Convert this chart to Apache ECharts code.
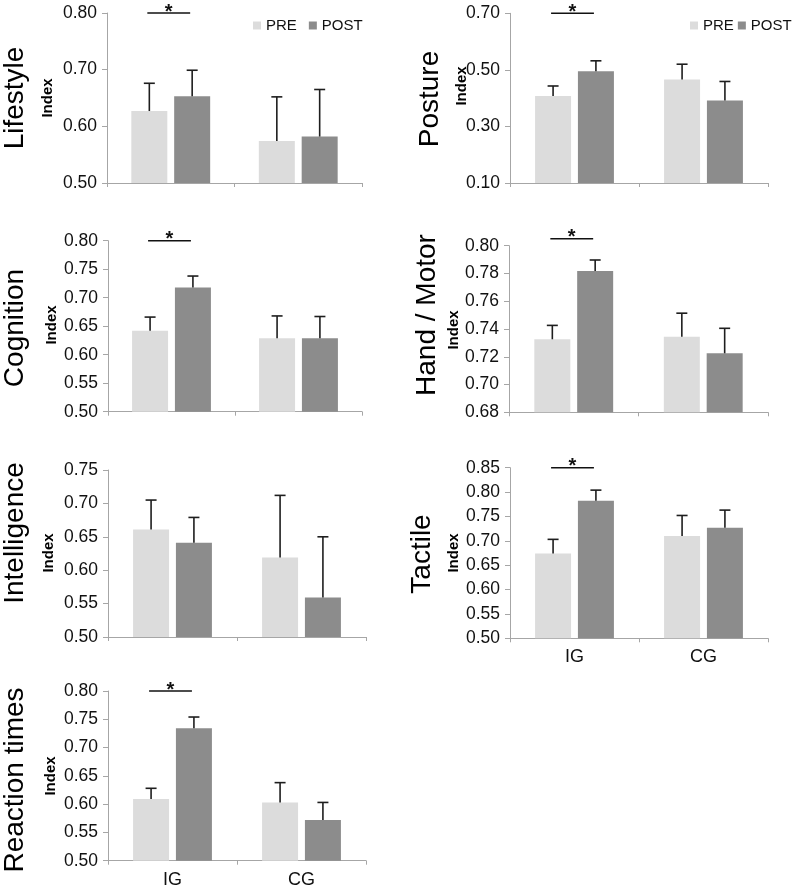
<!DOCTYPE html>
<html>
<head>
<meta charset="utf-8">
<script src="https://cdn.jsdelivr.net/npm/echarts@6/dist/echarts.min.js"></script>
<style>
html,body{margin:0;padding:0;background:#fff;}
#chart{width:797px;height:889px;}
</style>
</head>
<body>
<div id="chart"></div>
<script>
// ---------------- data ----------------
const categories = ['IG', 'CG'];
const seriesNames = ['PRE', 'POST'];
const panelTitles = ['Lifestyle', 'Posture', 'Cognition', 'Hand / Motor', 'Intelligence', 'Tactile', 'Reaction times'];
// means per panel: [IG, CG]
const preMeans  = [[0.627, 0.574], [0.408, 0.466], [0.642, 0.629], [0.7326, 0.7344], [0.661, 0.619], [0.674, 0.710], [0.609, 0.603]];
const postMeans = [[0.653, 0.582], [0.495, 0.392], [0.718, 0.629], [0.7817, 0.7225], [0.641, 0.559], [0.782, 0.727], [0.734, 0.572]];
// upper error (SD) per panel: [IG, CG]
const preErrs   = [[0.049, 0.078], [0.035, 0.054], [0.024, 0.039], [0.010, 0.017], [0.044, 0.093], [0.029, 0.042], [0.019, 0.035]];
const postErrs  = [[0.046, 0.083], [0.037, 0.067], [0.020, 0.038], [0.008, 0.018], [0.038, 0.091], [0.022, 0.036], [0.020, 0.031]];
// y axis ranges
const yMins  = [0.50, 0.10, 0.50, 0.68, 0.50, 0.50, 0.50];
const yMaxs  = [0.80, 0.70, 0.80, 0.80, 0.75, 0.85, 0.80];
const ySteps = [0.10, 0.20, 0.05, 0.02, 0.05, 0.05, 0.05];
// significance bracket level (IG PRE vs POST); null = none
const sigLevels = [0.80, 0.70, 0.80, 0.805, null, 0.85, 0.80];
const sigMark = '*';

// ---------------- layout / style ----------------
const FONT = '"Liberation Sans", Arial, Helvetica, sans-serif';
const PRE_COLOR = '#dcdcdc';
const POST_COLOR = '#8c8c8c';
const AXIS_COLOR = '#a6a6a6';
const BAR_W = 36;
const BAR_GAP = 0.19;
const OFFSET = BAR_W * (1 + BAR_GAP) / 2;

const gridBoxes = [
  [107, 13, 255, 170],
  [510, 13.3, 258, 169.7],
  [108, 240.7, 254, 171],
  [509, 245.7, 259, 166.6],
  [108, 470, 258, 167],
  [510, 467.7, 258, 170.6],
  [108, 691, 258, 169.7]
];
const titlePos = [[15, 98], [430, 99], [15, 328], [427, 315], [15, 533], [422, 554], [15, 780]];
const indexPos = [[47.5, 98], [462, 86], [52, 325], [454, 330], [49, 553], [454, 553], [51, 776]];
const showXLabels = [false, false, false, false, false, true, true];

function errRender(side) {
  return function (params, api) {
    const cat = api.value(0), mean = api.value(1), err = api.value(2);
    const base = api.coord([cat, mean]);
    const top = api.coord([cat, mean + err]);
    const x = base[0] + side * OFFSET;
    const st = { stroke: '#1e1e1e', lineWidth: 1.6 };
    return {
      type: 'group',
      children: [
        { type: 'line', shape: { x1: x, y1: base[1], x2: x, y2: top[1] }, style: st },
        { type: 'line', shape: { x1: x - 5.5, y1: top[1], x2: x + 5.5, y2: top[1] }, style: st }
      ]
    };
  };
}
function sigRender(params, api) {
  const cat = api.value(0), lvl = api.value(1);
  const p = api.coord([cat, lvl]);
  const x1 = p[0] - OFFSET - 2, x2 = p[0] + OFFSET - 2;
  return {
    type: 'group',
    children: [
      { type: 'line', shape: { x1: x1, y1: p[1], x2: x2, y2: p[1] }, style: { stroke: '#111', lineWidth: 1.5 } },
      { type: 'text', x: (x1 + x2) / 2, y: p[1] + 9,
        style: { text: sigMark, font: 'bold 20px ' + FONT, fill: '#111', align: 'center', verticalAlign: 'bottom', textAlign: 'center', textVerticalAlign: 'bottom' } }
    ]
  };
}

const grids = [], xAxes = [], yAxes = [], series = [], graphics = [];
for (let i = 0; i < panelTitles.length; i++) {
  const g = gridBoxes[i];
  grids.push({ left: g[0], top: g[1], width: g[2], height: g[3], containLabel: false });
  xAxes.push({
    type: 'category', gridIndex: i, data: categories,
    axisLine: { show: true, lineStyle: { color: AXIS_COLOR, width: 1 } },
    axisTick: { show: true, length: 4, alignWithLabel: false, lineStyle: { color: AXIS_COLOR } },
    axisLabel: { show: showXLabels[i], fontSize: 18, fontFamily: FONT, color: '#111', margin: 10 },
    splitLine: { show: false }
  });
  yAxes.push({
    type: 'value', gridIndex: i, min: yMins[i], max: yMaxs[i], interval: ySteps[i],
    axisLine: { show: true, lineStyle: { color: AXIS_COLOR, width: 1 } },
    axisTick: { show: true, length: 5, lineStyle: { color: AXIS_COLOR } },
    axisLabel: { fontSize: 17.5, fontFamily: FONT, color: '#111', margin: 10, formatter: v => v.toFixed(2) },
    splitLine: { show: false }
  });
  series.push({
    name: seriesNames[0], type: 'bar', xAxisIndex: i, yAxisIndex: i,
    barWidth: BAR_W, barGap: (BAR_GAP * 100) + '%',
    itemStyle: { color: PRE_COLOR }, data: preMeans[i], silent: true
  });
  series.push({
    name: seriesNames[1], type: 'bar', xAxisIndex: i, yAxisIndex: i,
    barWidth: BAR_W, barGap: (BAR_GAP * 100) + '%',
    itemStyle: { color: POST_COLOR }, data: postMeans[i], silent: true
  });
  series.push({
    type: 'custom', xAxisIndex: i, yAxisIndex: i, z: 3, silent: true,
    renderItem: errRender(-1),
    data: categories.map((c, k) => [k, preMeans[i][k], preErrs[i][k]])
  });
  series.push({
    type: 'custom', xAxisIndex: i, yAxisIndex: i, z: 3, silent: true,
    renderItem: errRender(1),
    data: categories.map((c, k) => [k, postMeans[i][k], postErrs[i][k]])
  });
  if (sigLevels[i] !== null) {
    series.push({
      type: 'custom', xAxisIndex: i, yAxisIndex: i, z: 4, silent: true, clip: false,
      renderItem: sigRender, data: [[0, sigLevels[i]]]
    });
  }
  graphics.push({
    type: 'text', x: titlePos[i][0], y: titlePos[i][1], rotation: Math.PI / 2,
    style: { text: panelTitles[i], font: '28px ' + FONT, fill: '#000',
      textAlign: 'center', textVerticalAlign: 'middle', align: 'center', verticalAlign: 'middle' }
  });
  graphics.push({
    type: 'text', x: indexPos[i][0], y: indexPos[i][1], rotation: Math.PI / 2,
    style: { text: 'Index', font: 'bold 15px ' + FONT, fill: '#000',
      textAlign: 'center', textVerticalAlign: 'middle', align: 'center', verticalAlign: 'middle' }
  });
}

const legendCommon = {
  data: seriesNames, icon: 'rect', itemWidth: 8, itemHeight: 8, selectedMode: false,
  textStyle: { fontSize: 15, fontFamily: FONT, color: '#111' }, padding: 0
};

const chart = echarts.init(document.getElementById('chart'), null, { renderer: 'canvas' });
chart.setOption({
  animation: false,
  backgroundColor: '#fff',
  grid: grids,
  xAxis: xAxes,
  yAxis: yAxes,
  legend: [
    Object.assign({}, legendCommon, { left: 253, top: 18, itemGap: 12 }),
    Object.assign({}, legendCommon, { left: 690, top: 18, itemGap: 4 })
  ],
  series: series,
  graphic: graphics
});
</script>
</body>
</html>
